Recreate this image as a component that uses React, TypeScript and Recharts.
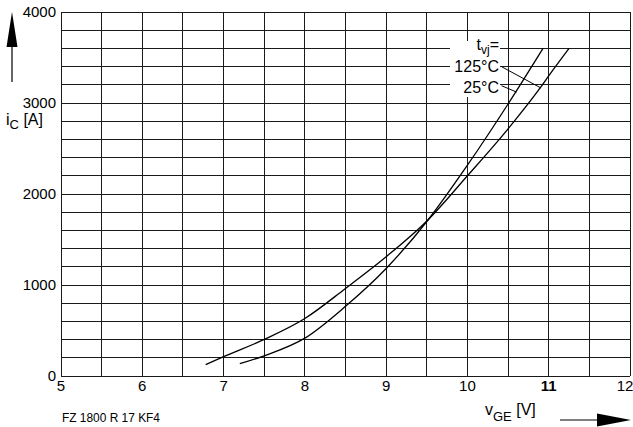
import React from "react";
import { LineChart, Line, XAxis, YAxis, CartesianGrid, ReferenceLine } from "recharts";

// axis ticks and grid values
const X_TICKS = [5, 6, 7, 8, 9, 10, 11, 12];
const Y_TICKS = [0, 1000, 2000, 3000, 4000];
const X_GRID = [5, 5.5, 6, 6.5, 7, 7.5, 8, 8.5, 9, 9.5, 10, 10.5, 11, 11.5, 12];
const Y_GRID = [
  0, 200, 400, 600, 800, 1000, 1200, 1400, 1600, 1800, 2000,
  2200, 2400, 2600, 2800, 3000, 3200, 3400, 3600, 3800, 4000,
];

// transfer characteristic, tvj = 25°C
const V_25 = [7.2, 7.5, 8.0, 8.5, 9.0, 9.52, 10.0, 10.5, 10.93];
const I_25 = [135, 222, 416, 766, 1182, 1720, 2316, 2989, 3600];

// transfer characteristic, tvj = 125°C
const V_125 = [6.78, 7.0, 7.5, 8.0, 8.5, 9.0, 9.52, 10.0, 10.5, 10.89, 11.0, 11.25];
const I_125 = [125, 212, 402, 632, 962, 1310, 1720, 2200, 2716, 3160, 3298, 3600];

const toPoints = (v: number[], i: number[]) => v.map((x, k) => ({ v: x, i: i[k] }));

const data25 = toPoints(V_25, I_25);
const data125 = toPoints(V_125, I_125);

const FONT = "'Liberation Sans', Arial, sans-serif";
const GRID = "#1a1a1a";

function XTick(props: any) {
  const { x, y, payload } = props;
  return (
    <text
      x={x}
      y={y + 15}
      textAnchor="middle"
      fontSize={15}
      fontFamily={FONT}
      fontWeight={payload.value === 11 ? 700 : 400}
      fill="#000"
    >
      {payload.value}
    </text>
  );
}

export default function App() {
  return (
    <div style={{ position: "absolute", left: 0, top: 0, width: 633, height: 427, background: "#fff" }}>
      <LineChart
        width={633}
        height={427}
        margin={{ top: 12, right: 3, bottom: 21, left: 0 }}
        style={{ fontFamily: FONT }}
      >
        <CartesianGrid
          stroke={GRID}
          strokeWidth={1}
          shapeRendering="crispEdges"
          horizontal={false}
          verticalValues={X_GRID}
        />
        {Y_GRID.map((g) => (
          <ReferenceLine
            key={g}
            y={g}
            stroke={GRID}
            strokeWidth={1}
            shapeRendering="crispEdges"
          />
        ))}
        <XAxis
          type="number"
          dataKey="v"
          domain={[5, 12]}
          ticks={X_TICKS}
          allowDuplicatedCategory={false}
          axisLine={{ stroke: GRID, shapeRendering: "crispEdges" }}
          tickLine={false}
          tickSize={0}
          tickMargin={0}
          height={30}
          tick={<XTick />}
        />
        <YAxis
          type="number"
          dataKey="i"
          domain={[0, 4000]}
          ticks={Y_TICKS}
          axisLine={{ stroke: GRID, shapeRendering: "crispEdges" }}
          tickLine={false}
          tickSize={0}
          tickMargin={5}
          width={61}
          tick={{ fontSize: 15, fill: "#000", fontFamily: FONT }}
        />
        <Line
          data={data25}
          dataKey="i"
          type="monotone"
          stroke="#000"
          strokeWidth={1.3}
          dot={false}
          isAnimationActive={false}
        />
        <Line
          data={data125}
          dataKey="i"
          type="monotone"
          stroke="#000"
          strokeWidth={1.3}
          dot={false}
          isAnimationActive={false}
        />
        {/* leader lines from the temperature labels */}
        <ReferenceLine
          segment={[{ x: 10.42, y: 3399 }, { x: 10.904, y: 3165 }]}
          stroke="#000"
          strokeWidth={1}
        />
        <ReferenceLine
          segment={[{ x: 10.42, y: 3190 }, { x: 10.605, y: 3120 }]}
          stroke="#000"
          strokeWidth={1}
        />
      </LineChart>

      <svg
        width={633}
        height={427}
        style={{ position: "absolute", left: 0, top: 0, pointerEvents: "none" }}
        fontFamily={FONT}
      >
        {/* up arrow */}
        <line x1={12} y1={45} x2={12} y2={82} stroke="#000" strokeWidth={1.2} />
        <polygon points="12,12 6.5,47 17.5,47" fill="#000" />
        <text x={6} y={125} fontSize={16} fill="#000">
          i<tspan fontSize={13} dy={4}>C</tspan>
          <tspan dy={-4}> [A]</tspan>
        </text>

        {/* right arrow */}
        <line x1={560} y1={420} x2={598} y2={420} stroke="#000" strokeWidth={1.2} />
        <polygon points="597,413.5 631,420 597,426.5" fill="#000" />
        <text x={485} y={415} fontSize={16} fill="#000">
          v<tspan fontSize={13} dy={6}>GE</tspan>
          <tspan dy={-6}> [V]</tspan>
        </text>

        <text x={62} y={421.5} fontSize={13} fill="#000" textLength={98} lengthAdjust="spacingAndGlyphs">
          FZ 1800 R 17 KF4
        </text>

        {/* temperature legend */}
        <rect x={450} y={41} width={50} height={56} fill="#fff" />
        <text x={499} y={49.5} fontSize={16} textAnchor="end" fill="#000">
          t<tspan fontSize={12} dy={4}>vj</tspan>
          <tspan dy={-4}>=</tspan>
        </text>
        <text x={499} y={72.3} fontSize={16} textAnchor="end" fill="#000">
          125°C
        </text>
        <text x={499} y={92.7} fontSize={16} textAnchor="end" fill="#000">
          25°C
        </text>
      </svg>
    </div>
  );
}
